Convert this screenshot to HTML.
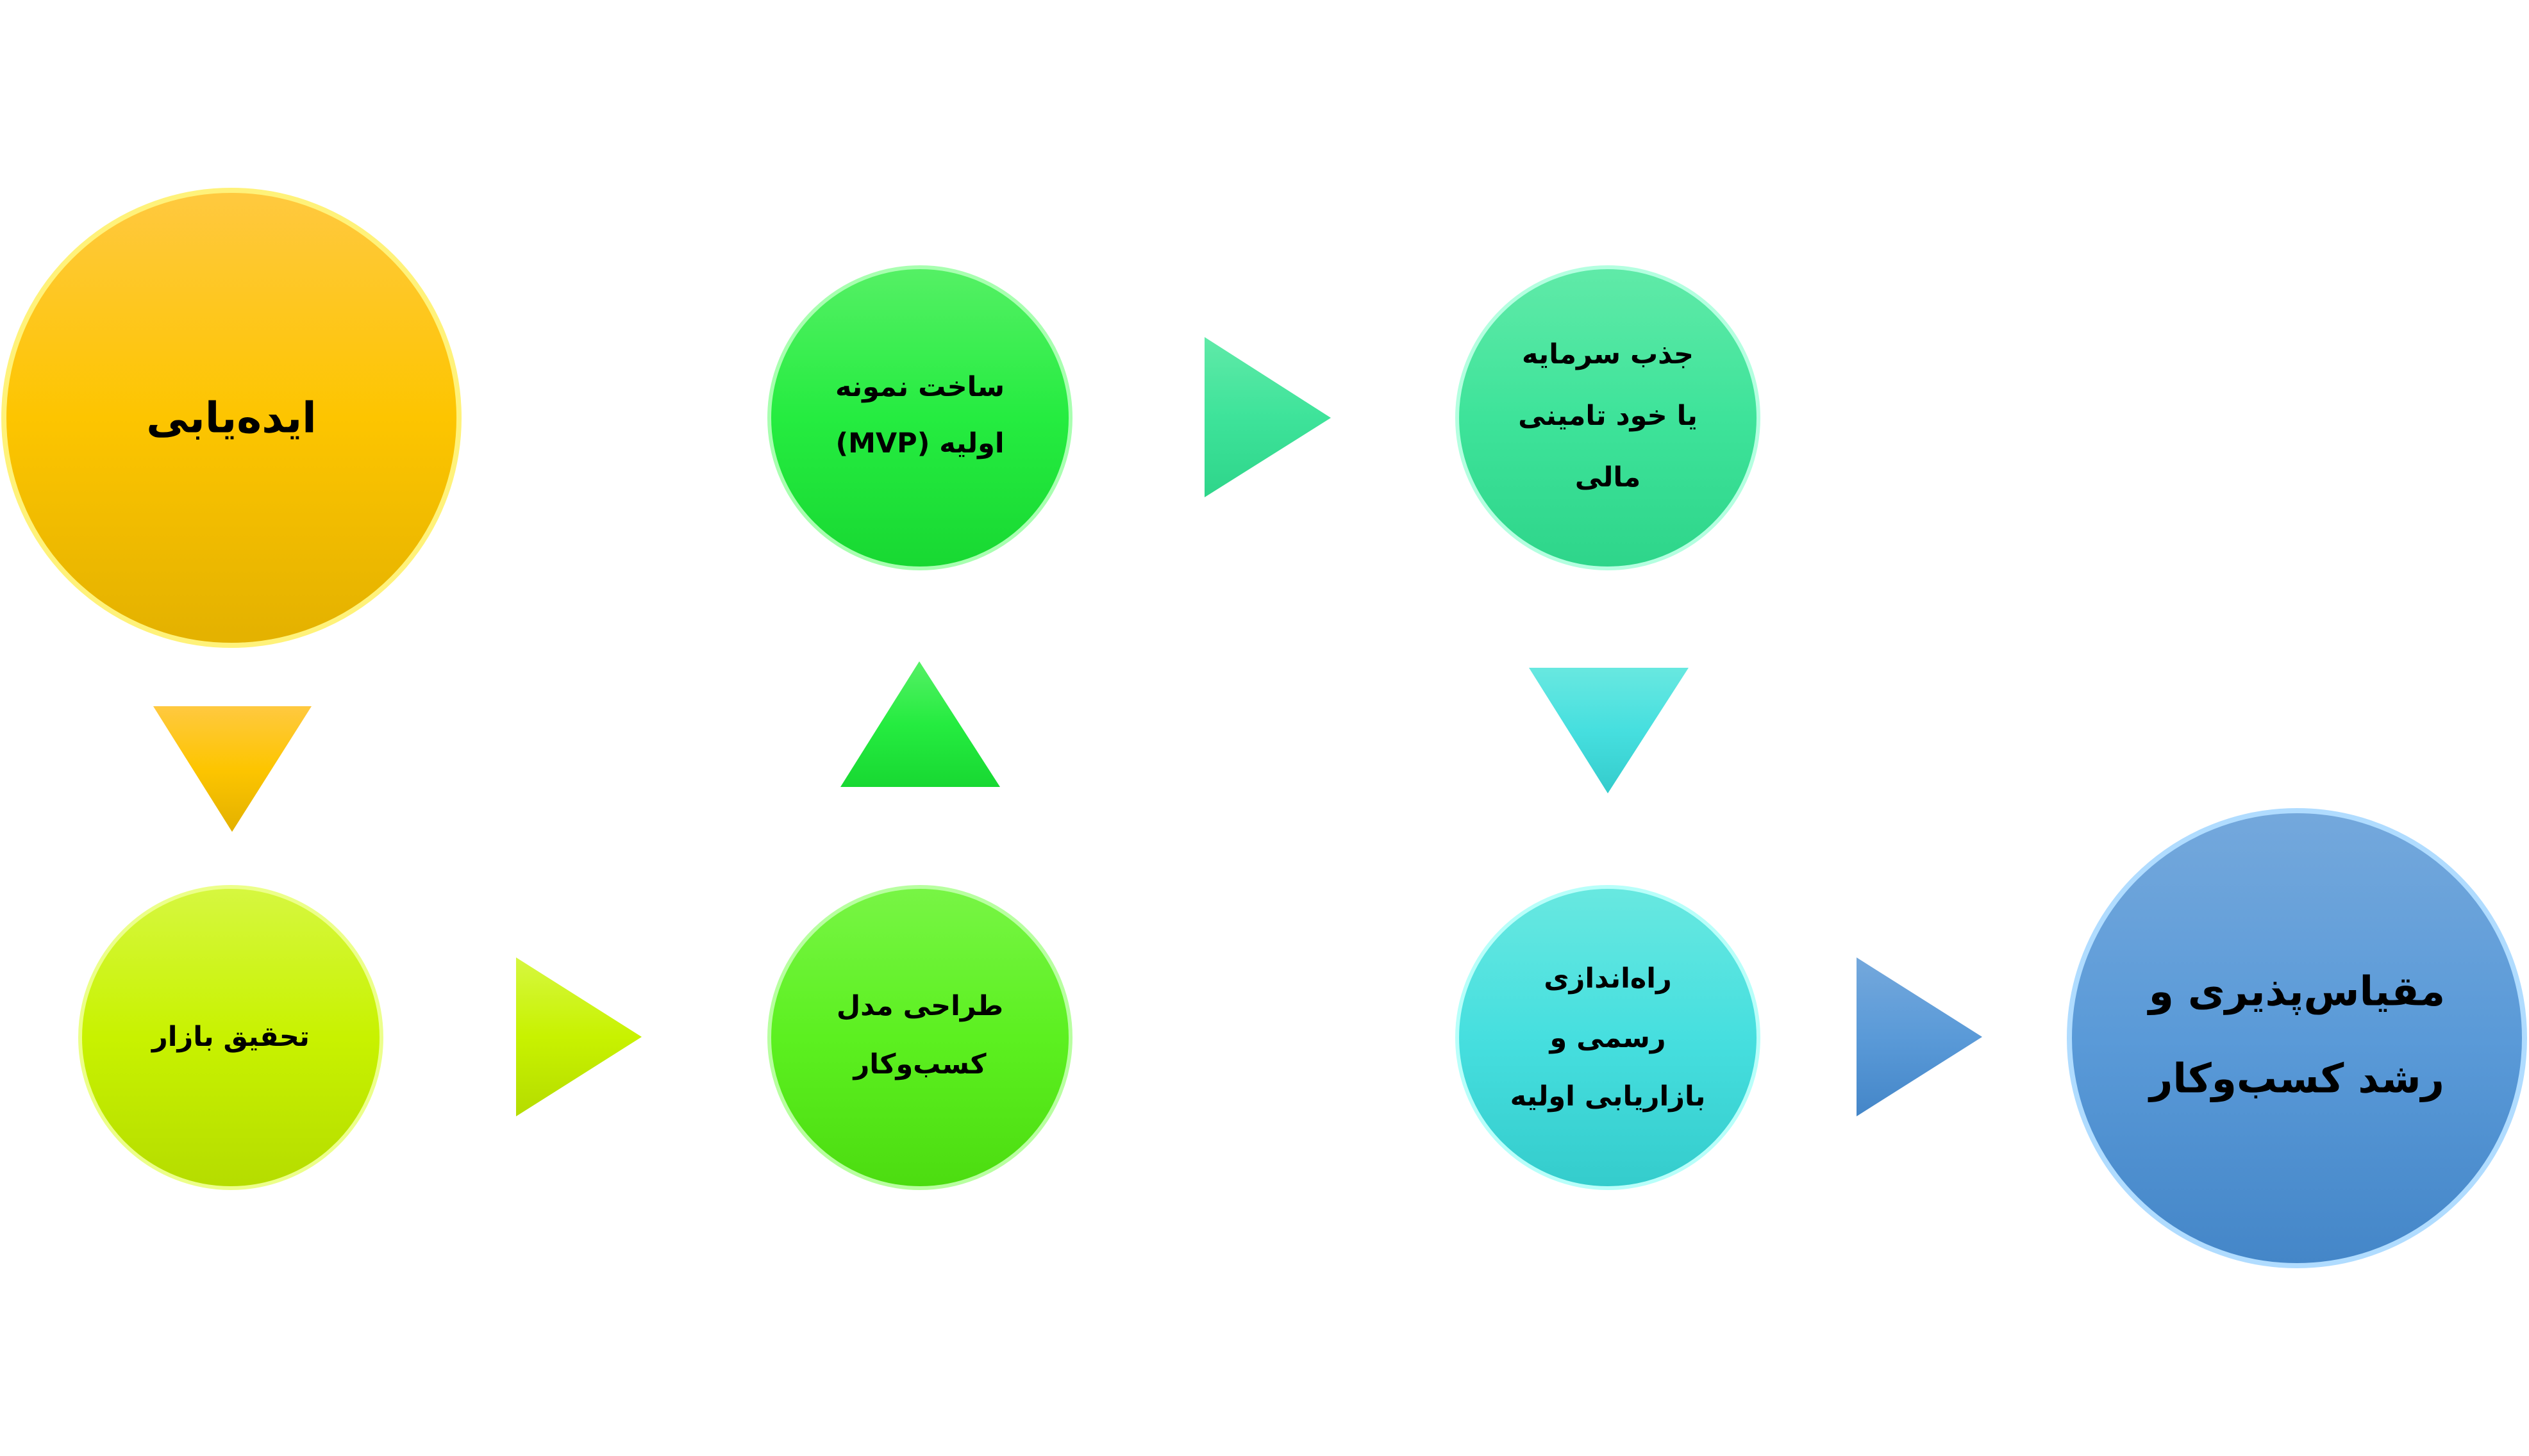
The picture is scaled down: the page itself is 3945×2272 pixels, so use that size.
<!DOCTYPE html>
<html><head><meta charset="utf-8"><style>
html,body{margin:0;padding:0;background:#fff;width:3945px;height:2272px;overflow:hidden}
svg text{font-family:"DejaVu Sans","Liberation Sans",sans-serif;font-weight:bold;fill:#000;text-anchor:middle;dominant-baseline:central;direction:rtl}
</style></head><body>
<svg width="3945" height="2272" xmlns="http://www.w3.org/2000/svg">
<defs>
<linearGradient id="gy" x1="0" y1="0" x2="0" y2="1"><stop offset="0" stop-color="#ffc940"/><stop offset="0.5" stop-color="#fdc500"/><stop offset="1" stop-color="#e3b100"/></linearGradient>
<linearGradient id="gl" x1="0" y1="0" x2="0" y2="1"><stop offset="0" stop-color="#d6f740"/><stop offset="0.5" stop-color="#c8f200"/><stop offset="1" stop-color="#b5dc00"/></linearGradient>
<linearGradient id="gb" x1="0" y1="0" x2="0" y2="1"><stop offset="0" stop-color="#78f545"/><stop offset="0.5" stop-color="#5cf020"/><stop offset="1" stop-color="#4cdc10"/></linearGradient>
<linearGradient id="gm" x1="0" y1="0" x2="0" y2="1"><stop offset="0" stop-color="#55f065"/><stop offset="0.5" stop-color="#25ec40"/><stop offset="1" stop-color="#18d832"/></linearGradient>
<linearGradient id="gf" x1="0" y1="0" x2="0" y2="1"><stop offset="0" stop-color="#60eaa8"/><stop offset="0.5" stop-color="#3ee39a"/><stop offset="1" stop-color="#2ed58a"/></linearGradient>
<linearGradient id="gt" x1="0" y1="0" x2="0" y2="1"><stop offset="0" stop-color="#68e8e0"/><stop offset="0.5" stop-color="#46dfdf"/><stop offset="1" stop-color="#34cccc"/></linearGradient>
<linearGradient id="gc" x1="0" y1="0" x2="0" y2="1"><stop offset="0" stop-color="#74a8dc"/><stop offset="0.5" stop-color="#5a9ad8"/><stop offset="1" stop-color="#4486c8"/></linearGradient>
</defs>
<circle cx="361" cy="652" r="355" fill="url(#gy)" stroke="#fff27a" stroke-width="8"/>
<circle cx="360" cy="1619" r="235" fill="url(#gl)" stroke="#ecff8a" stroke-width="6"/>
<circle cx="1435" cy="1619" r="235" fill="url(#gb)" stroke="#b8ffa0" stroke-width="6"/>
<circle cx="1435" cy="652" r="235" fill="url(#gm)" stroke="#a8ffb0" stroke-width="6"/>
<circle cx="2508" cy="652" r="235" fill="url(#gf)" stroke="#b4ffe0" stroke-width="6"/>
<circle cx="2508" cy="1619" r="235" fill="url(#gt)" stroke="#b8fffa" stroke-width="6"/>
<circle cx="3583" cy="1620" r="355" fill="url(#gc)" stroke="#b0dcff" stroke-width="8"/>
<polygon points="239,1102 486,1102 362,1298" fill="url(#gy)"/>
<polygon points="805,1494 805,1742 1001,1618" fill="url(#gl)"/>
<polygon points="1311,1228 1560,1228 1434,1032" fill="url(#gm)"/>
<polygon points="1879,526 1879,776 2076,652" fill="url(#gf)"/>
<polygon points="2385,1042 2634,1042 2508,1238" fill="url(#gt)"/>
<polygon points="2896,1494 2896,1742 3092,1618" fill="url(#gc)"/>
<text x="361" y="652" font-size="66">ایده‌یابی</text>
<text x="360" y="1618" font-size="43">تحقیق بازار</text>
<text x="1435" y="1570" font-size="43">طراحی مدل</text>
<text x="1435" y="1661" font-size="43">کسب‌وکار</text>
<text x="1435" y="604" font-size="43">ساخت نمونه</text>
<text x="1435" y="692" font-size="43">اولیه (MVP)</text>
<text x="2508" y="553" font-size="43">جذب سرمایه</text>
<text x="2508" y="649" font-size="43">یا خود تامینی</text>
<text x="2508" y="745" font-size="43">مالی</text>
<text x="2508" y="1527" font-size="43">راه‌اندازی</text>
<text x="2508" y="1620" font-size="43">رسمی و</text>
<text x="2508" y="1711" font-size="43">بازاریابی اولیه</text>
<text x="3583" y="1547" font-size="63">مقیاس‌پذیری و</text>
<text x="3583" y="1683" font-size="63">رشد کسب‌وکار</text>
</svg>
</body></html>
